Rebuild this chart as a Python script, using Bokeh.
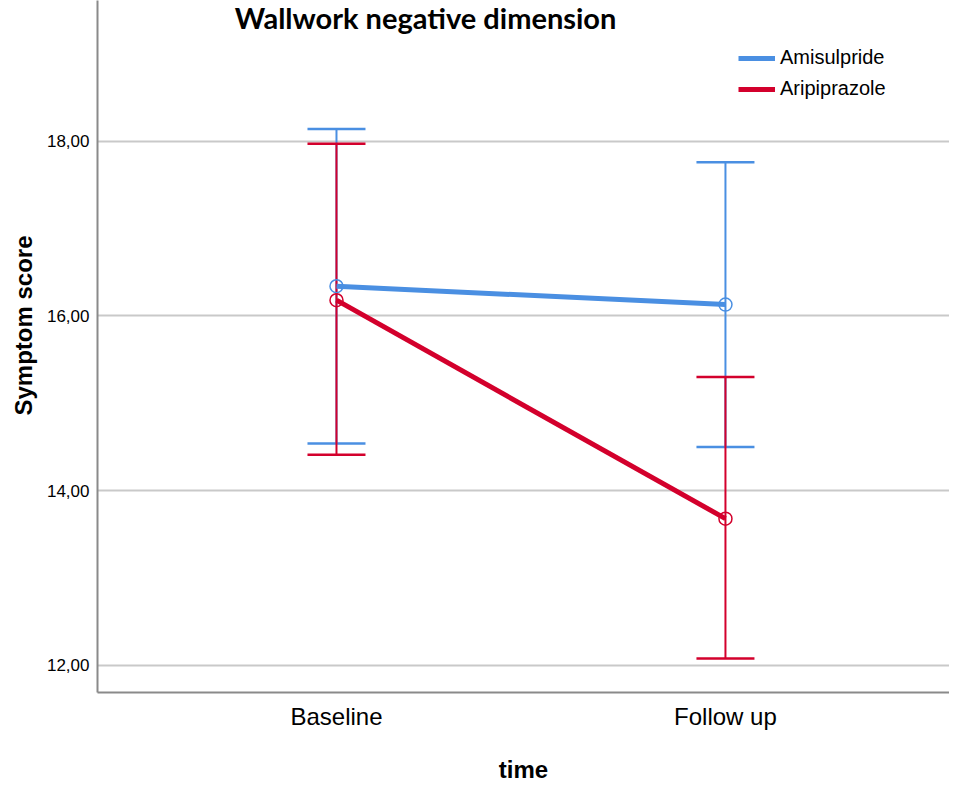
from bokeh.plotting import figure
from bokeh.models import (FixedTicker, Whisker, TeeHead, ColumnDataSource, Legend,
                          LegendItem, Label, Range1d, Title)
from bokeh.embed import file_html
from bokeh.resources import INLINE

# ---- data ----
categories = ["Baseline", "Follow up"]
x_pos = [1, 2]
ami_mean = [16.34, 16.13]
ami_lower = [14.54, 14.50]
ami_upper = [18.14, 17.76]
ari_mean = [16.18, 13.68]
ari_lower = [14.41, 12.08]
ari_upper = [17.97, 15.30]
y_ticks = [12, 14, 16, 18]
y_tick_labels = ["12,00", "14,00", "16,00", "18,00"]
series_names = ["Amisulpride", "Aripiprazole"]

BLUE = "#4a8fe2"
RED = "#d3002c"
GRID = "#c9c9c9"
AXIS = "#8a8a8a"
SANS = "Liberation Sans"

p = figure(width=949, height=786,
           x_range=Range1d(0.3856, 2.576), y_range=Range1d(11.69, 19.61),
           output_backend="svg", toolbar_location=None,
           min_border_left=97, min_border_right=0, min_border_top=0,
           min_border_bottom=94)
p.outline_line_color = None
p.background_fill_color = "white"
p.border_fill_color = "white"

# grid
p.xgrid.visible = False
p.ygrid.ticker = FixedTicker(ticks=y_ticks)
p.ygrid.grid_line_color = GRID
p.ygrid.grid_line_width = 2

# axes
p.xaxis.ticker = FixedTicker(ticks=x_pos)
p.xaxis.major_label_overrides = {k: v for k, v in zip(x_pos, categories)}
p.yaxis.ticker = FixedTicker(ticks=y_ticks)
p.yaxis.major_label_overrides = {k: v for k, v in zip(y_ticks, y_tick_labels)}
for ax in (p.xaxis, p.yaxis):
    ax.axis_line_color = AXIS
    ax.axis_line_width = 2
    ax.major_tick_line_color = None
    ax.minor_tick_line_color = None
    ax.major_tick_out = 0
    ax.major_tick_in = 0
    ax.major_label_text_color = "black"
    ax.axis_label_text_color = "black"
    ax.axis_label_text_font_style = "bold"
    ax.axis_label_text_font = SANS

p.xaxis.major_label_text_font = SANS
p.xaxis.major_label_text_font_size = "24px"
p.xaxis.major_label_standoff = 10
p.xaxis.axis_label = "time"
p.xaxis.axis_label_text_font_size = "24px"
p.xaxis.axis_label_standoff = 23

p.yaxis.major_label_text_font = SANS
p.yaxis.major_label_text_font_size = "17px"
p.yaxis.major_label_standoff = 8

# y axis title, shifted upward like in the reference
ytitle = Title(text="Symptom score", align="left", offset=277,
               text_font=SANS, text_font_style="bold",
               text_font_size="24px", text_color="black", standoff=14)
p.add_layout(ytitle, "left")

# error bars
src_a = ColumnDataSource(dict(x=x_pos, m=ami_mean, lo=ami_lower, hi=ami_upper))
src_r = ColumnDataSource(dict(x=x_pos, m=ari_mean, lo=ari_lower, hi=ari_upper))

for src, col in ((src_a, BLUE), (src_r, RED)):
    w = Whisker(base="x", upper="hi", lower="lo", source=src,
                line_color=col, line_width=2,
                upper_head=TeeHead(size=58, line_color=col, line_width=2.5),
                lower_head=TeeHead(size=58, line_color=col, line_width=2.5))
    p.add_layout(w)

# mean lines
la = p.line("x", "m", source=src_a, line_color=BLUE, line_width=5)
p.scatter("x", "m", source=src_a, size=13, marker="circle",
          line_color=BLUE, line_width=1.5, fill_alpha=0)
lr = p.line("x", "m", source=src_r, line_color=RED, line_width=5)
p.scatter("x", "m", source=src_r, size=13, marker="circle",
          line_color=RED, line_width=1.5, fill_alpha=0)

legend = Legend(items=[LegendItem(label=series_names[0], renderers=[la]),
                       LegendItem(label=series_names[1], renderers=[lr])],
                location=(641, 592), orientation="vertical",
                glyph_width=37, glyph_height=20, label_height=20,
                spacing=8, padding=0, margin=0, label_standoff=5,
                border_line_color=None, background_fill_alpha=0,
                label_text_font=SANS, label_text_font_size="20px",
                label_text_color="black")
p.add_layout(legend)

title = Label(x=1.229, y=19.42, text="Wallwork negative dimension",
              text_align="center", text_baseline="alphabetic",
              text_font="Lato", text_font_style="bold",
              text_font_size="29px", text_color="black")
p.add_layout(title)

open("out.html", "w").write(file_html(p, INLINE))
